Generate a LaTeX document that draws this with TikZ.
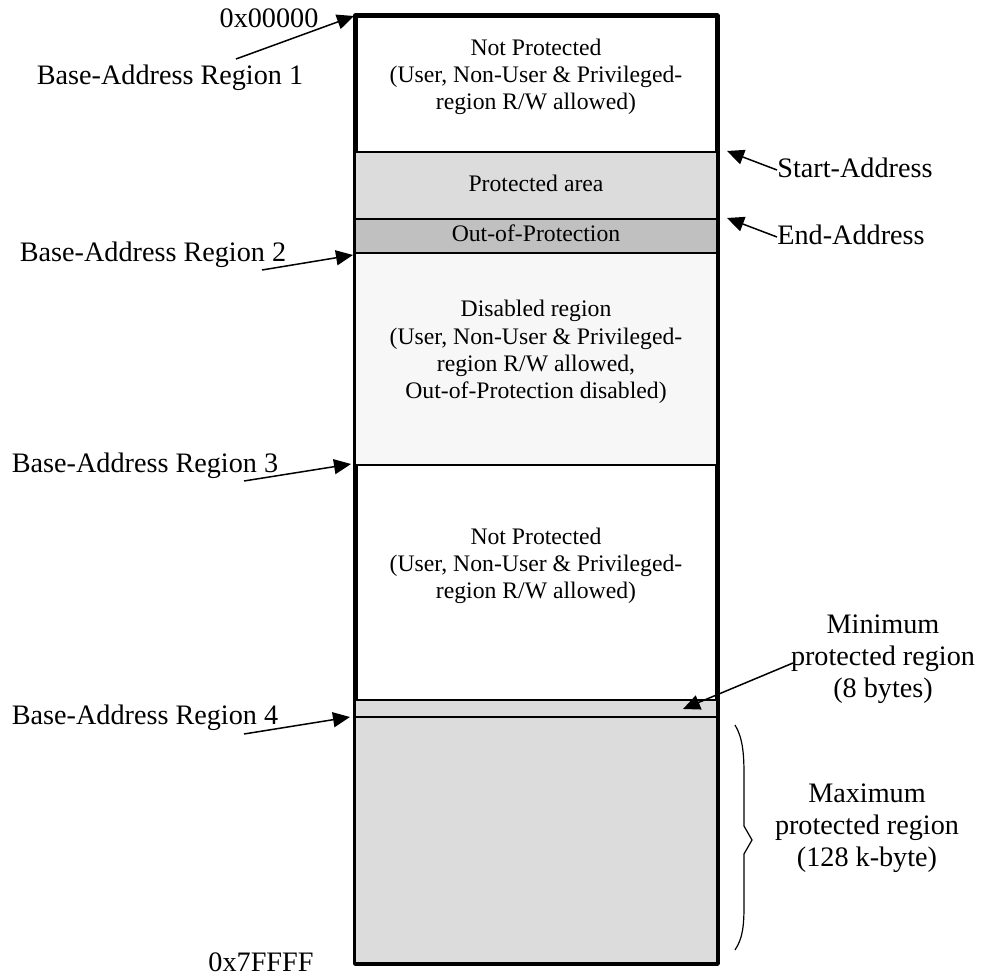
\documentclass[tikz,border=0pt]{standalone}
\usepackage{fontspec}
\setmainfont{Liberation Serif}
\usetikzlibrary{arrows.meta}
\definecolor{protgray}{HTML}{DCDCDC}
\definecolor{oopgray}{HTML}{C0C0C0}
\definecolor{disgray}{HTML}{F7F7F7}
\begin{document}
\begin{tikzpicture}[x=0.5pt,y=-0.5pt,
  intext/.style={font=\fontsize{11.85}{13.6}\selectfont, align=center, inner sep=0pt},
  lbl/.style={font=\fontsize{14.1}{16}\selectfont, inner sep=0pt},
  rlbl/.style={font=\fontsize{14.1}{16}\selectfont, align=center, inner sep=0pt},
  ptr/.style={-{Triangle[length=8.5pt,width=7.5pt]}, line width=0.75pt},
  thinbox/.style={draw=black, line width=0.7pt},
  outer/.style={draw=black, line width=2.5pt, line join=round}]
\useasboundingbox (0,0) rectangle (981,978);

% regions
\path[fill=disgray] (355,253) rectangle (717,465);
\path[outer, fill=none] (355,16) rectangle (717,963);
\path[fill=disgray] (356.3,254) rectangle (715.7,464);
\draw[line width=0.7pt] (355,465) -- (717,465);
\path[thinbox, fill=protgray] (355,152) rectangle (717,219);
\path[thinbox, fill=oopgray] (355,219) rectangle (717,253);
\path[thinbox, fill=protgray] (355,700) rectangle (717,717);
\path[thinbox, fill=protgray, line join=round] (355,717) rectangle (717,963);

% region texts
\node[intext] (np1) at (536,77) {Not Protected\\(User, Non-User \& Privileged-\\region R/W allowed)};
\node[intext] (prot) at (536,183) {Protected area};
\node[intext] (oop) at (536,233) {Out-of-Protection};
\node[intext] (dis) at (536,352) {Disabled region\\(User, Non-User \& Privileged-\\region R/W allowed,\\Out-of-Protection disabled)};
\node[intext] (np2) at (536,566) {Not Protected\\(User, Non-User \& Privileged-\\region R/W allowed)};

% left labels
\node[lbl, anchor=base] (addr0) at (269,28) {0x00000};
\node[lbl, anchor=base] (bar1) at (170,85) {Base-Address Region 1};
\node[lbl, anchor=base] (bar2) at (153,262) {Base-Address Region 2};
\node[lbl, anchor=base] (bar3) at (145,473) {Base-Address Region 3};
\node[lbl, anchor=base] (bar4) at (145,725) {Base-Address Region 4};
\node[lbl, anchor=base] (addr7) at (261,971) {0x7FFFF};

% right labels
\node[lbl, anchor=base west] (start) at (777,178) {Start-Address};
\node[lbl, anchor=base west] (endad) at (777,245) {End-Address};
\node[rlbl] (minl) at (883,659) {Minimum\\protected region\\(8 bytes)};
\node[rlbl] (maxl) at (867,828) {Maximum\\protected region\\(128 k-byte)};

% arrow coordinates
\coordinate (s0) at (236,59);   \coordinate (t0) at (354,16);
\coordinate (s2) at (262,270);  \coordinate (t2) at (353,255);
\coordinate (s3) at (244,481);  \coordinate (t3) at (351,464);
\coordinate (s4) at (244,734);  \coordinate (t4) at (350,717);
\coordinate (ss) at (777,170);  \coordinate (ts) at (727,151);
\coordinate (se) at (777,237);  \coordinate (te) at (727,218);
\coordinate (sm) at (793,663);  \coordinate (tm) at (683,709);

\draw[ptr] (s0) -- (t0);
\draw[ptr] (s2) -- (t2);
\draw[ptr] (s3) -- (t3);
\draw[ptr] (s4) -- (t4);
\draw[ptr] (ss) -- (ts);
\draw[ptr] (se) -- (te);
\draw[ptr] (sm) -- (tm);

% brace
\coordinate (bt) at (735,725);
\coordinate (bb) at (735,950);
\draw[line width=0.6pt] (bt) .. controls (743,738) and (744,755) .. (744,775)
  -- (744,826) -- (752,840) -- (744,854) -- (744,905)
  .. controls (744,925) and (743,938) .. (bb);
\end{tikzpicture}
\end{document}
